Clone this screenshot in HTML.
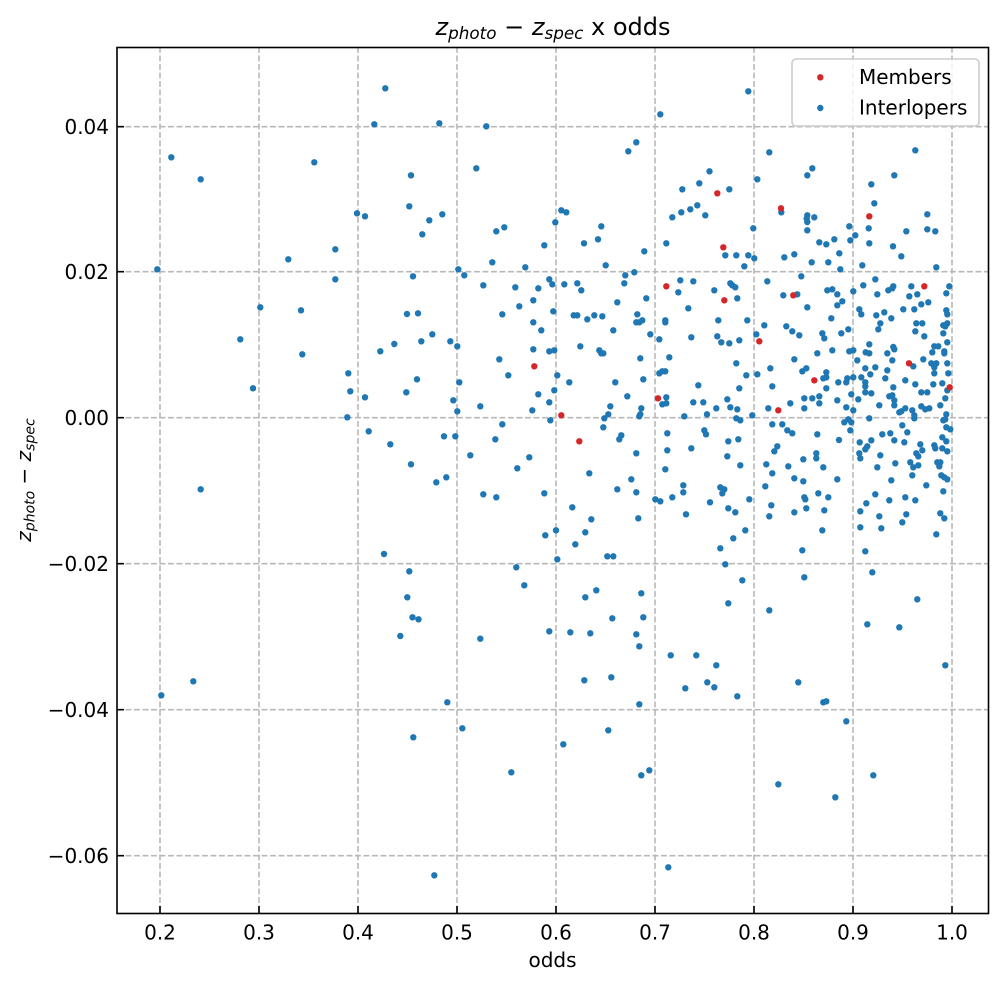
<!DOCTYPE html>
<html>
<head>
<meta charset="utf-8">
<style>
html,body{margin:0;padding:0;background:#fff;}
svg{display:block;}
text{font-family:"DejaVu Sans","Liberation Sans",sans-serif;fill:#000;}
</style>
</head>
<body>
<svg width="1004" height="985" viewBox="0 0 1004 985" xmlns="http://www.w3.org/2000/svg">
<rect x="0" y="0" width="1004" height="985" fill="#fff"/>
<!-- grid -->
<g stroke="#b8b8b8" stroke-width="1.6" stroke-dasharray="5.9 2.6" fill="none">
<line x1="160" y1="47" x2="160" y2="913"/>
<line x1="259" y1="47" x2="259" y2="913"/>
<line x1="358" y1="47" x2="358" y2="913"/>
<line x1="457" y1="47" x2="457" y2="913"/>
<line x1="556" y1="47" x2="556" y2="913"/>
<line x1="655" y1="47" x2="655" y2="913"/>
<line x1="754" y1="47" x2="754" y2="913"/>
<line x1="853" y1="47" x2="853" y2="913"/>
<line x1="952" y1="47" x2="952" y2="913"/>
<line x1="117" y1="126.7" x2="988" y2="126.7"/>
<line x1="117" y1="271.7" x2="988" y2="271.7"/>
<line x1="117" y1="417.7" x2="988" y2="417.7"/>
<line x1="117" y1="563.7" x2="988" y2="563.7"/>
<line x1="117" y1="709.7" x2="988" y2="709.7"/>
<line x1="117" y1="855.7" x2="988" y2="855.7"/>
</g>
<!-- interlopers -->
<g fill="#1f77b4">
<circle cx="385.3" cy="88.3" r="3.2"/><circle cx="374.3" cy="124.3" r="3.2"/><circle cx="171.3" cy="157.3" r="3.2"/><circle cx="200.7" cy="179.3" r="3.2"/><circle cx="314.3" cy="162.3" r="3.2"/><circle cx="411" cy="175.3" r="3.2"/><circle cx="357" cy="213.3" r="3.2"/><circle cx="365" cy="216.3" r="3.2"/><circle cx="409.3" cy="206.3" r="3.2"/><circle cx="335.3" cy="249.3" r="3.2"/><circle cx="288.3" cy="259.3" r="3.2"/><circle cx="157.3" cy="269.3" r="3.2"/><circle cx="413" cy="276.3" r="3.2"/><circle cx="335.3" cy="279.3" r="3.2"/><circle cx="260.3" cy="307.3" r="3.2"/><circle cx="301" cy="310.3" r="3.2"/><circle cx="407" cy="314" r="3.2"/><circle cx="418" cy="313.3" r="3.2"/><circle cx="240.3" cy="339.3" r="3.2"/><circle cx="394.3" cy="344" r="3.2"/>
<circle cx="302.3" cy="354.3" r="3.2"/><circle cx="380.3" cy="351.3" r="3.2"/><circle cx="348.3" cy="373.3" r="3.2"/><circle cx="417" cy="379.3" r="3.2"/><circle cx="253" cy="388.3" r="3.2"/><circle cx="350.3" cy="391.3" r="3.2"/><circle cx="365" cy="397.3" r="3.2"/><circle cx="406.3" cy="392.3" r="3.2"/><circle cx="347.3" cy="417.3" r="3.2"/><circle cx="368.7" cy="431.3" r="3.2"/><circle cx="390.3" cy="444.3" r="3.2"/><circle cx="411" cy="464.3" r="3.2"/><circle cx="200.7" cy="489.3" r="3.2"/><circle cx="384" cy="554" r="3.2"/><circle cx="409.3" cy="571.3" r="3.2"/><circle cx="407.3" cy="597.3" r="3.2"/><circle cx="412.5" cy="617.3" r="3.2"/><circle cx="418.5" cy="619.3" r="3.2"/><circle cx="400.3" cy="636" r="3.2"/>
<circle cx="193.3" cy="681.3" r="3.2"/><circle cx="161.3" cy="695.3" r="3.2"/><circle cx="413.3" cy="737.3" r="3.2"/>
<circle cx="439.3" cy="123.3" r="3.2"/><circle cx="486.3" cy="126.3" r="3.2"/><circle cx="660.3" cy="114.3" r="3.2"/><circle cx="628.3" cy="151.3" r="3.2"/><circle cx="636.3" cy="142.3" r="3.2"/><circle cx="476.3" cy="168.3" r="3.2"/><circle cx="709.5" cy="171.3" r="3.2"/><circle cx="699.3" cy="183.3" r="3.2"/><circle cx="682.3" cy="189.3" r="3.2"/><circle cx="429.3" cy="220.3" r="3.2"/><circle cx="442.3" cy="214.3" r="3.2"/><circle cx="422.3" cy="234.3" r="3.2"/><circle cx="561.3" cy="210.3" r="3.2"/><circle cx="566.3" cy="212.3" r="3.2"/><circle cx="555.3" cy="222.3" r="3.2"/><circle cx="496.3" cy="231.3" r="3.2"/><circle cx="504.3" cy="227.3" r="3.2"/><circle cx="601.3" cy="226.3" r="3.2"/><circle cx="598" cy="239.3" r="3.2"/><circle cx="584" cy="243.3" r="3.2"/><circle cx="544.3" cy="245.3" r="3.2"/><circle cx="672.3" cy="217.3" r="3.2"/><circle cx="681.3" cy="212.3" r="3.2"/><circle cx="690.3" cy="209.3" r="3.2"/><circle cx="697.3" cy="205.3" r="3.2"/><circle cx="705.3" cy="215.3" r="3.2"/><circle cx="666.3" cy="243.3" r="3.2"/><circle cx="644.3" cy="251.3" r="3.2"/><circle cx="492.3" cy="262.3" r="3.2"/><circle cx="458.3" cy="269.3" r="3.2"/><circle cx="464.3" cy="275.3" r="3.2"/><circle cx="525.3" cy="267.3" r="3.2"/><circle cx="605.7" cy="265.3" r="3.2"/><circle cx="625.3" cy="275.3" r="3.2"/><circle cx="634.3" cy="272.3" r="3.2"/><circle cx="624.3" cy="283.3" r="3.2"/><circle cx="483.3" cy="285.3" r="3.2"/><circle cx="515.3" cy="287.3" r="3.2"/><circle cx="538.3" cy="288.3" r="3.2"/><circle cx="549.3" cy="279.3" r="3.2"/><circle cx="552.3" cy="284.3" r="3.2"/><circle cx="564.3" cy="284.3" r="3.2"/><circle cx="577.3" cy="283.3" r="3.2"/><circle cx="581.3" cy="290.3" r="3.2"/><circle cx="680.3" cy="280.3" r="3.2"/><circle cx="693.3" cy="281.3" r="3.2"/><circle cx="678.3" cy="292.3" r="3.2"/><circle cx="646.3" cy="298.3" r="3.2"/><circle cx="617.3" cy="302.3" r="3.2"/><circle cx="533.3" cy="300.3" r="3.2"/><circle cx="519.3" cy="306.3" r="3.2"/><circle cx="502.3" cy="314.3" r="3.2"/><circle cx="553.3" cy="311.3" r="3.2"/><circle cx="573.7" cy="315.3" r="3.2"/><circle cx="577.3" cy="315.3" r="3.2"/><circle cx="587.3" cy="319.3" r="3.2"/><circle cx="594.3" cy="315.3" r="3.2"/><circle cx="602.3" cy="316.3" r="3.2"/><circle cx="637.3" cy="314.3" r="3.2"/><circle cx="636.3" cy="322.3" r="3.2"/><circle cx="639.3" cy="322.3" r="3.2"/><circle cx="642.3" cy="320.3" r="3.2"/><circle cx="665.3" cy="320.3" r="3.2"/><circle cx="665.3" cy="322.3" r="3.2"/><circle cx="688.3" cy="308.3" r="3.2"/><circle cx="533.3" cy="322.3" r="3.2"/><circle cx="541.3" cy="330.3" r="3.2"/><circle cx="613.3" cy="330.3" r="3.2"/><circle cx="650.3" cy="334.3" r="3.2"/><circle cx="659.3" cy="339.3" r="3.2"/><circle cx="691.3" cy="337.3" r="3.2"/><circle cx="432.3" cy="334.3" r="3.2"/><circle cx="421.3" cy="341.3" r="3.2"/><circle cx="450.3" cy="341.3" r="3.2"/><circle cx="457.3" cy="346.3" r="3.2"/><circle cx="580.3" cy="346.3" r="3.2"/>
<circle cx="533.3" cy="349.3" r="3.2"/><circle cx="549.3" cy="351.3" r="3.2"/><circle cx="554.3" cy="350.3" r="3.2"/><circle cx="599.3" cy="350.3" r="3.2"/><circle cx="601.3" cy="353.3" r="3.2"/><circle cx="603.3" cy="353.3" r="3.2"/><circle cx="499.3" cy="359.3" r="3.2"/><circle cx="508.3" cy="375.3" r="3.2"/><circle cx="557.3" cy="375.3" r="3.2"/><circle cx="569.3" cy="382.3" r="3.2"/><circle cx="459.3" cy="382.3" r="3.2"/><circle cx="554.3" cy="390.3" r="3.2"/><circle cx="538.3" cy="394.3" r="3.2"/><circle cx="549.3" cy="402.3" r="3.2"/><circle cx="453.3" cy="400.3" r="3.2"/><circle cx="457.3" cy="411.3" r="3.2"/><circle cx="480.3" cy="406.3" r="3.2"/><circle cx="532.3" cy="410.3" r="3.2"/><circle cx="550.3" cy="420.3" r="3.2"/><circle cx="502.3" cy="424.3" r="3.2"/><circle cx="444" cy="436.3" r="3.2"/><circle cx="455.3" cy="436.3" r="3.2"/><circle cx="495.3" cy="439.3" r="3.2"/><circle cx="470.3" cy="455.3" r="3.2"/><circle cx="529.3" cy="457.3" r="3.2"/><circle cx="517.3" cy="468.3" r="3.2"/><circle cx="436.3" cy="482.3" r="3.2"/><circle cx="446.3" cy="477.3" r="3.2"/><circle cx="483.3" cy="494.3" r="3.2"/><circle cx="496.3" cy="497.3" r="3.2"/><circle cx="544.3" cy="493.3" r="3.2"/><circle cx="589.3" cy="473.3" r="3.2"/><circle cx="640.3" cy="358.3" r="3.2"/><circle cx="669.3" cy="357.3" r="3.2"/><circle cx="659.3" cy="373.3" r="3.2"/><circle cx="662.3" cy="371.3" r="3.2"/><circle cx="665.3" cy="371.3" r="3.2"/><circle cx="643.3" cy="379.3" r="3.2"/><circle cx="615.3" cy="382.3" r="3.2"/><circle cx="627.3" cy="396.3" r="3.2"/><circle cx="610.3" cy="406.3" r="3.2"/><circle cx="608.3" cy="414.3" r="3.2"/><circle cx="604.3" cy="418.3" r="3.2"/><circle cx="603.3" cy="427.3" r="3.2"/><circle cx="641.3" cy="408.3" r="3.2"/><circle cx="640.3" cy="414.3" r="3.2"/><circle cx="639.3" cy="416.3" r="3.2"/><circle cx="662.3" cy="404.3" r="3.2"/><circle cx="666.3" cy="403.3" r="3.2"/><circle cx="666.3" cy="397.3" r="3.2"/><circle cx="684.3" cy="416.3" r="3.2"/><circle cx="693.3" cy="402.3" r="3.2"/><circle cx="703.3" cy="402.3" r="3.2"/><circle cx="698.3" cy="385.3" r="3.2"/><circle cx="707" cy="414.3" r="3.2"/><circle cx="667.3" cy="433.3" r="3.2"/><circle cx="704.3" cy="430.3" r="3.2"/><circle cx="706" cy="434.3" r="3.2"/><circle cx="691.3" cy="448.3" r="3.2"/><circle cx="667.3" cy="450.3" r="3.2"/><circle cx="621.3" cy="435.3" r="3.2"/><circle cx="619.3" cy="439.3" r="3.2"/><circle cx="636.3" cy="453.3" r="3.2"/><circle cx="665.3" cy="469.3" r="3.2"/><circle cx="631.3" cy="479.3" r="3.2"/><circle cx="617.3" cy="489.3" r="3.2"/><circle cx="636.3" cy="492.3" r="3.2"/><circle cx="655.3" cy="499.3" r="3.2"/><circle cx="660.3" cy="501.3" r="3.2"/><circle cx="672.3" cy="497.3" r="3.2"/><circle cx="683.3" cy="485.3" r="3.2"/><circle cx="683.3" cy="492.3" r="3.2"/><circle cx="710" cy="502.3" r="3.2"/><circle cx="686" cy="514.3" r="3.2"/><circle cx="638.3" cy="518.3" r="3.2"/><circle cx="572.3" cy="507.3" r="3.2"/><circle cx="591.3" cy="519.3" r="3.2"/><circle cx="585.3" cy="532.3" r="3.2"/><circle cx="556" cy="530.3" r="3.2"/><circle cx="545.3" cy="535.3" r="3.2"/><circle cx="575.3" cy="544.3" r="3.2"/><circle cx="607.3" cy="556.3" r="3.2"/><circle cx="613.3" cy="556.3" r="3.2"/><circle cx="557.3" cy="559.3" r="3.2"/><circle cx="516.3" cy="567.3" r="3.2"/><circle cx="524.3" cy="585.3" r="3.2"/><circle cx="585.3" cy="597.3" r="3.2"/><circle cx="596.3" cy="590.3" r="3.2"/><circle cx="641.3" cy="593.3" r="3.2"/><circle cx="612.3" cy="618.3" r="3.2"/><circle cx="643.3" cy="617.3" r="3.2"/><circle cx="549.3" cy="631.3" r="3.2"/><circle cx="570.3" cy="632.3" r="3.2"/><circle cx="590.3" cy="633.3" r="3.2"/><circle cx="636.3" cy="634.3" r="3.2"/><circle cx="480.3" cy="638.7" r="3.2"/>
<circle cx="639.3" cy="646.3" r="3.2"/><circle cx="670.7" cy="655.3" r="3.2"/><circle cx="696.3" cy="655.3" r="3.2"/><circle cx="584.3" cy="680.3" r="3.2"/><circle cx="611.3" cy="677.3" r="3.2"/><circle cx="685.3" cy="688.3" r="3.2"/><circle cx="707.3" cy="682.3" r="3.2"/><circle cx="639.3" cy="704.3" r="3.2"/><circle cx="447.3" cy="702.3" r="3.2"/><circle cx="462.3" cy="728.3" r="3.2"/><circle cx="608.3" cy="730.3" r="3.2"/><circle cx="563.3" cy="744.3" r="3.2"/><circle cx="511.3" cy="772.3" r="3.2"/><circle cx="641.3" cy="775.3" r="3.2"/><circle cx="649.3" cy="770.3" r="3.2"/><circle cx="434.3" cy="875.3" r="3.2"/><circle cx="668.3" cy="867.3" r="3.2"/>
<circle cx="748.3" cy="91.3" r="3.2"/><circle cx="915.3" cy="150.3" r="3.2"/><circle cx="769.3" cy="152.3" r="3.2"/><circle cx="757.3" cy="179.3" r="3.2"/><circle cx="807.3" cy="175.3" r="3.2"/><circle cx="812.3" cy="168.3" r="3.2"/><circle cx="894.3" cy="175.3" r="3.2"/><circle cx="871.3" cy="184.3" r="3.2"/><circle cx="729.3" cy="189.3" r="3.2"/><circle cx="874.3" cy="203.3" r="3.2"/><circle cx="781.3" cy="212.3" r="3.2"/><circle cx="807.3" cy="215.3" r="3.2"/><circle cx="806.7" cy="218.7" r="3.2"/><circle cx="807.3" cy="222" r="3.2"/><circle cx="814.3" cy="217.3" r="3.2"/><circle cx="927.3" cy="214.3" r="3.2"/><circle cx="753.3" cy="228.3" r="3.2"/><circle cx="807.3" cy="230.3" r="3.2"/><circle cx="849.3" cy="226.3" r="3.2"/><circle cx="868.7" cy="228.3" r="3.2"/><circle cx="906.3" cy="231.3" r="3.2"/><circle cx="927.3" cy="229.3" r="3.2"/><circle cx="935.3" cy="231.3" r="3.2"/><circle cx="819.3" cy="242.3" r="3.2"/><circle cx="826.3" cy="244.3" r="3.2"/><circle cx="834.3" cy="239.3" r="3.2"/><circle cx="850.3" cy="240.3" r="3.2"/><circle cx="855.3" cy="235.3" r="3.2"/><circle cx="869.3" cy="243.3" r="3.2"/><circle cx="893" cy="246.3" r="3.2"/><circle cx="725.3" cy="255.3" r="3.2"/><circle cx="736.3" cy="255.3" r="3.2"/><circle cx="748.3" cy="255.3" r="3.2"/><circle cx="754.3" cy="258.3" r="3.2"/><circle cx="744.3" cy="266.3" r="3.2"/><circle cx="784.3" cy="257.3" r="3.2"/><circle cx="794.3" cy="254.3" r="3.2"/><circle cx="839.3" cy="253.3" r="3.2"/><circle cx="811.7" cy="262.3" r="3.2"/><circle cx="828.3" cy="262.3" r="3.2"/><circle cx="840.3" cy="269.3" r="3.2"/><circle cx="862.3" cy="265.3" r="3.2"/><circle cx="901.3" cy="256.3" r="3.2"/><circle cx="936.3" cy="267.3" r="3.2"/><circle cx="801.3" cy="276.3" r="3.2"/><circle cx="767.3" cy="281.3" r="3.2"/><circle cx="714.3" cy="290.3" r="3.2"/><circle cx="730.3" cy="283.3" r="3.2"/><circle cx="732.3" cy="285.3" r="3.2"/><circle cx="735.3" cy="287.3" r="3.2"/><circle cx="737.3" cy="298.3" r="3.2"/><circle cx="783.3" cy="295.3" r="3.2"/><circle cx="797.3" cy="294.3" r="3.2"/><circle cx="807.3" cy="307.3" r="3.2"/><circle cx="827.3" cy="290.3" r="3.2"/><circle cx="832.3" cy="289.3" r="3.2"/><circle cx="837.3" cy="294.3" r="3.2"/><circle cx="837.3" cy="305.3" r="3.2"/><circle cx="842.3" cy="301.3" r="3.2"/><circle cx="853.3" cy="291.3" r="3.2"/><circle cx="863.3" cy="285.3" r="3.2"/><circle cx="875.3" cy="279.3" r="3.2"/><circle cx="877.3" cy="294.3" r="3.2"/><circle cx="888.3" cy="290.3" r="3.2"/><circle cx="892.3" cy="288.3" r="3.2"/><circle cx="893.3" cy="286.3" r="3.2"/><circle cx="911.3" cy="286.3" r="3.2"/><circle cx="909.3" cy="296.3" r="3.2"/><circle cx="917.3" cy="294.3" r="3.2"/><circle cx="949.3" cy="286.3" r="3.2"/><circle cx="946.3" cy="293.3" r="3.2"/><circle cx="859.3" cy="309.3" r="3.2"/><circle cx="861.3" cy="314.3" r="3.2"/><circle cx="876.3" cy="315.3" r="3.2"/><circle cx="884.3" cy="312.3" r="3.2"/><circle cx="891.3" cy="318.3" r="3.2"/><circle cx="903.3" cy="309.3" r="3.2"/><circle cx="914.3" cy="309.3" r="3.2"/><circle cx="921.3" cy="304.3" r="3.2"/><circle cx="928.3" cy="302.3" r="3.2"/><circle cx="946.3" cy="310.3" r="3.2"/><circle cx="947.3" cy="314.3" r="3.2"/><circle cx="947.3" cy="323.3" r="3.2"/><circle cx="943.3" cy="325.3" r="3.2"/><circle cx="945.3" cy="326.3" r="3.2"/><circle cx="916.3" cy="323.3" r="3.2"/><circle cx="922.3" cy="323.3" r="3.2"/><circle cx="915.3" cy="331.3" r="3.2"/><circle cx="924.3" cy="336.3" r="3.2"/><circle cx="943.3" cy="333.3" r="3.2"/><circle cx="947.3" cy="342.3" r="3.2"/><circle cx="934.3" cy="346.3" r="3.2"/><circle cx="938.3" cy="346.3" r="3.2"/><circle cx="718.3" cy="320.3" r="3.2"/><circle cx="747.3" cy="320.3" r="3.2"/><circle cx="831.3" cy="318.3" r="3.2"/><circle cx="880.3" cy="323.3" r="3.2"/><circle cx="878.3" cy="329.3" r="3.2"/><circle cx="764.3" cy="325.3" r="3.2"/><circle cx="786.3" cy="326.3" r="3.2"/><circle cx="792.3" cy="331.3" r="3.2"/><circle cx="799.3" cy="335.3" r="3.2"/><circle cx="822.3" cy="333.3" r="3.2"/><circle cx="824.3" cy="338.3" r="3.2"/><circle cx="841.3" cy="333.3" r="3.2"/><circle cx="848.3" cy="329.3" r="3.2"/><circle cx="717.3" cy="336.3" r="3.2"/><circle cx="721.3" cy="342.3" r="3.2"/><circle cx="729.3" cy="343.3" r="3.2"/><circle cx="739.3" cy="340.3" r="3.2"/><circle cx="756.3" cy="334.3" r="3.2"/><circle cx="869.3" cy="344.3" r="3.2"/><circle cx="893.3" cy="347" r="3.2"/>
<circle cx="817.3" cy="353.3" r="3.2"/><circle cx="832.3" cy="350.3" r="3.2"/><circle cx="849.3" cy="351.3" r="3.2"/><circle cx="853.3" cy="350.3" r="3.2"/><circle cx="865.7" cy="352.3" r="3.2"/><circle cx="869.3" cy="353.3" r="3.2"/><circle cx="887.3" cy="353.3" r="3.2"/><circle cx="894.3" cy="349.3" r="3.2"/><circle cx="892.3" cy="360.3" r="3.2"/><circle cx="857.3" cy="360.3" r="3.2"/><circle cx="794.3" cy="359.3" r="3.2"/><circle cx="736.3" cy="363.3" r="3.2"/><circle cx="770.3" cy="368.3" r="3.2"/><circle cx="802.3" cy="371.3" r="3.2"/><circle cx="806.3" cy="368.3" r="3.2"/><circle cx="865.3" cy="368.3" r="3.2"/><circle cx="875.3" cy="367.3" r="3.2"/><circle cx="887.3" cy="370.3" r="3.2"/><circle cx="913.3" cy="366.3" r="3.2"/><circle cx="923.3" cy="359.3" r="3.2"/><circle cx="932.3" cy="352.3" r="3.2"/><circle cx="944.3" cy="351.3" r="3.2"/><circle cx="944.3" cy="353.3" r="3.2"/><circle cx="931.3" cy="363.3" r="3.2"/><circle cx="936.3" cy="363.3" r="3.2"/><circle cx="934.3" cy="367.3" r="3.2"/><circle cx="934.3" cy="373.3" r="3.2"/><circle cx="947.3" cy="363.3" r="3.2"/><circle cx="948.3" cy="373.3" r="3.2"/><circle cx="746.3" cy="375.3" r="3.2"/><circle cx="757.3" cy="374.3" r="3.2"/><circle cx="739.3" cy="388.3" r="3.2"/><circle cx="772.3" cy="386.3" r="3.2"/><circle cx="823.3" cy="378.3" r="3.2"/><circle cx="826.3" cy="372.3" r="3.2"/><circle cx="826.3" cy="377.3" r="3.2"/><circle cx="826.3" cy="388.3" r="3.2"/><circle cx="838.3" cy="382.3" r="3.2"/><circle cx="846.3" cy="382.3" r="3.2"/><circle cx="847.3" cy="378.3" r="3.2"/><circle cx="853.3" cy="377.3" r="3.2"/><circle cx="861.3" cy="377.3" r="3.2"/><circle cx="865.3" cy="382.3" r="3.2"/><circle cx="865.3" cy="386.3" r="3.2"/><circle cx="865.3" cy="392.3" r="3.2"/><circle cx="870.3" cy="374.3" r="3.2"/><circle cx="871.3" cy="393.3" r="3.2"/><circle cx="885.3" cy="378.3" r="3.2"/><circle cx="893.3" cy="387.3" r="3.2"/><circle cx="905.3" cy="380.3" r="3.2"/><circle cx="915.3" cy="384.3" r="3.2"/><circle cx="921.3" cy="392.3" r="3.2"/><circle cx="927.3" cy="392.3" r="3.2"/><circle cx="933.3" cy="384.3" r="3.2"/><circle cx="942.3" cy="383.3" r="3.2"/><circle cx="947.3" cy="390.3" r="3.2"/><circle cx="851.3" cy="394.3" r="3.2"/><circle cx="858.3" cy="399.3" r="3.2"/><circle cx="879.3" cy="405.3" r="3.2"/><circle cx="889.3" cy="396.3" r="3.2"/><circle cx="892.3" cy="395.3" r="3.2"/><circle cx="894.3" cy="400.3" r="3.2"/><circle cx="894.3" cy="405.3" r="3.2"/><circle cx="899.3" cy="412.3" r="3.2"/><circle cx="901.3" cy="411.3" r="3.2"/><circle cx="905.3" cy="408.3" r="3.2"/><circle cx="912.3" cy="410.3" r="3.2"/><circle cx="914.3" cy="415.3" r="3.2"/><circle cx="914.3" cy="418.3" r="3.2"/><circle cx="921.3" cy="406.3" r="3.2"/><circle cx="925.3" cy="409.3" r="3.2"/><circle cx="929.3" cy="408.3" r="3.2"/><circle cx="940.3" cy="405.3" r="3.2"/><circle cx="945.3" cy="398.3" r="3.2"/><circle cx="946.3" cy="414.3" r="3.2"/><circle cx="945.3" cy="419.3" r="3.2"/><circle cx="943.3" cy="420.3" r="3.2"/><circle cx="716.3" cy="408.3" r="3.2"/><circle cx="727.3" cy="399.3" r="3.2"/><circle cx="730.3" cy="407.3" r="3.2"/><circle cx="737.3" cy="409.3" r="3.2"/><circle cx="736.3" cy="418.3" r="3.2"/><circle cx="740.3" cy="420.3" r="3.2"/><circle cx="752.3" cy="415.3" r="3.2"/><circle cx="768.3" cy="408.3" r="3.2"/><circle cx="790.3" cy="403.3" r="3.2"/><circle cx="804.3" cy="398.3" r="3.2"/><circle cx="804.3" cy="408.3" r="3.2"/><circle cx="812.3" cy="398.3" r="3.2"/><circle cx="819.3" cy="396.3" r="3.2"/><circle cx="819.3" cy="403.3" r="3.2"/><circle cx="837.3" cy="400.3" r="3.2"/><circle cx="846.3" cy="407.3" r="3.2"/><circle cx="853.3" cy="410.3" r="3.2"/><circle cx="848.3" cy="419.3" r="3.2"/><circle cx="844.3" cy="422.3" r="3.2"/><circle cx="851.3" cy="422.3" r="3.2"/><circle cx="850.3" cy="430.3" r="3.2"/><circle cx="869.3" cy="418.3" r="3.2"/><circle cx="772.3" cy="424.3" r="3.2"/><circle cx="782.3" cy="424.3" r="3.2"/><circle cx="787.3" cy="430.3" r="3.2"/><circle cx="792.3" cy="433.3" r="3.2"/><circle cx="817.3" cy="434.3" r="3.2"/><circle cx="839" cy="440" r="3.2"/><circle cx="728.3" cy="441.3" r="3.2"/><circle cx="738.3" cy="439.3" r="3.2"/><circle cx="727.3" cy="456.3" r="3.2"/><circle cx="740.3" cy="465.3" r="3.2"/><circle cx="777.3" cy="446.3" r="3.2"/><circle cx="774.3" cy="451.3" r="3.2"/><circle cx="766.3" cy="464.3" r="3.2"/><circle cx="772.3" cy="473.3" r="3.2"/><circle cx="788.3" cy="466.3" r="3.2"/><circle cx="803.3" cy="459.3" r="3.2"/><circle cx="816.3" cy="453.3" r="3.2"/><circle cx="816.3" cy="458.3" r="3.2"/><circle cx="823.3" cy="467.3" r="3.2"/><circle cx="794.3" cy="478.3" r="3.2"/><circle cx="803.3" cy="481.3" r="3.2"/><circle cx="837.3" cy="479.3" r="3.2"/><circle cx="765.3" cy="486.3" r="3.2"/><circle cx="859.7" cy="442.3" r="3.2"/><circle cx="859.3" cy="453.3" r="3.2"/><circle cx="860.3" cy="458.3" r="3.2"/><circle cx="865.3" cy="449.3" r="3.2"/><circle cx="867.3" cy="446.3" r="3.2"/><circle cx="871.3" cy="440.3" r="3.2"/><circle cx="882.3" cy="434.3" r="3.2"/><circle cx="890.3" cy="433.3" r="3.2"/><circle cx="894.3" cy="440.3" r="3.2"/><circle cx="904.3" cy="442.3" r="3.2"/><circle cx="902.3" cy="425.3" r="3.2"/><circle cx="907.3" cy="432.3" r="3.2"/><circle cx="880.3" cy="455.3" r="3.2"/><circle cx="877.3" cy="467.3" r="3.2"/><circle cx="895.3" cy="463.3" r="3.2"/><circle cx="891.3" cy="480.3" r="3.2"/><circle cx="920.3" cy="444.3" r="3.2"/><circle cx="922.3" cy="450.3" r="3.2"/><circle cx="916.3" cy="453.3" r="3.2"/><circle cx="918.3" cy="456.3" r="3.2"/><circle cx="910.3" cy="462.3" r="3.2"/><circle cx="913.3" cy="467.3" r="3.2"/><circle cx="918.3" cy="465.3" r="3.2"/><circle cx="912.3" cy="475.3" r="3.2"/><circle cx="926.3" cy="485.3" r="3.2"/><circle cx="934.3" cy="445.3" r="3.2"/><circle cx="935.3" cy="448.3" r="3.2"/><circle cx="942.3" cy="437.3" r="3.2"/><circle cx="942.3" cy="448.3" r="3.2"/><circle cx="946.3" cy="441.3" r="3.2"/><circle cx="947.3" cy="451.3" r="3.2"/><circle cx="946.3" cy="427.3" r="3.2"/><circle cx="950.3" cy="429.3" r="3.2"/><circle cx="937.3" cy="462.3" r="3.2"/><circle cx="940.3" cy="462.3" r="3.2"/><circle cx="939.3" cy="466.3" r="3.2"/><circle cx="941.3" cy="475.3" r="3.2"/><circle cx="944.3" cy="477.3" r="3.2"/><circle cx="947.3" cy="479.3" r="3.2"/><circle cx="943.3" cy="491.3" r="3.2"/><circle cx="720.3" cy="487.3" r="3.2"/><circle cx="724.3" cy="489.3" r="3.2"/><circle cx="722.3" cy="493.3" r="3.2"/><circle cx="749.3" cy="499.3" r="3.2"/><circle cx="728.3" cy="508.3" r="3.2"/><circle cx="735.3" cy="512.3" r="3.2"/><circle cx="771.3" cy="505.3" r="3.2"/><circle cx="769.3" cy="516.3" r="3.2"/><circle cx="794.3" cy="512.3" r="3.2"/><circle cx="806.3" cy="508.3" r="3.2"/><circle cx="804.3" cy="497.3" r="3.2"/><circle cx="805.3" cy="499.3" r="3.2"/><circle cx="818.3" cy="493.3" r="3.2"/><circle cx="828.3" cy="497.3" r="3.2"/><circle cx="824.3" cy="510.3" r="3.2"/><circle cx="822.3" cy="530.3" r="3.2"/><circle cx="745.3" cy="530.3" r="3.2"/><circle cx="733.3" cy="538.3" r="3.2"/><circle cx="720.3" cy="548.3" r="3.2"/><circle cx="725.3" cy="564.3" r="3.2"/><circle cx="742.3" cy="580.3" r="3.2"/><circle cx="728.3" cy="603.3" r="3.2"/><circle cx="769.3" cy="610.3" r="3.2"/><circle cx="802.3" cy="550.3" r="3.2"/><circle cx="804.3" cy="577.3" r="3.2"/><circle cx="875.3" cy="494.3" r="3.2"/><circle cx="866.3" cy="503.3" r="3.2"/><circle cx="860.3" cy="511.3" r="3.2"/><circle cx="860.3" cy="527.3" r="3.2"/><circle cx="879.3" cy="516.3" r="3.2"/><circle cx="881.3" cy="528.3" r="3.2"/><circle cx="889.3" cy="500.3" r="3.2"/><circle cx="905.3" cy="497.3" r="3.2"/><circle cx="915.3" cy="500.3" r="3.2"/><circle cx="906.3" cy="514.3" r="3.2"/><circle cx="902.3" cy="522.3" r="3.2"/><circle cx="940.3" cy="513.3" r="3.2"/><circle cx="944.3" cy="518.3" r="3.2"/><circle cx="936.3" cy="534.3" r="3.2"/><circle cx="865.3" cy="551.3" r="3.2"/><circle cx="872.3" cy="572.3" r="3.2"/><circle cx="917.3" cy="599.3" r="3.2"/><circle cx="867.3" cy="624.3" r="3.2"/><circle cx="899.3" cy="627.3" r="3.2"/>
<circle cx="716.3" cy="665.3" r="3.2"/><circle cx="714.3" cy="687.3" r="3.2"/><circle cx="737.3" cy="696.3" r="3.2"/><circle cx="798.3" cy="682.3" r="3.2"/><circle cx="823.3" cy="702.3" r="3.2"/><circle cx="826.3" cy="701.3" r="3.2"/><circle cx="846.3" cy="721.3" r="3.2"/><circle cx="945.3" cy="665.3" r="3.2"/><circle cx="778.3" cy="784.3" r="3.2"/><circle cx="835.3" cy="797.3" r="3.2"/><circle cx="873.3" cy="775.3" r="3.2"/>
</g>
<!-- members -->
<g fill="#d62728">
<circle cx="666.3" cy="286.3" r="3.2"/><circle cx="534.3" cy="366.3" r="3.2"/><circle cx="561.3" cy="415.3" r="3.2"/><circle cx="579.3" cy="441.3" r="3.2"/><circle cx="658" cy="398.3" r="3.2"/><circle cx="717.3" cy="193.3" r="3.2"/><circle cx="781" cy="208.3" r="3.2"/><circle cx="869.3" cy="216.3" r="3.2"/><circle cx="723.3" cy="247.3" r="3.2"/><circle cx="724.3" cy="300.3" r="3.2"/><circle cx="793.3" cy="295.3" r="3.2"/><circle cx="924.3" cy="286.3" r="3.2"/><circle cx="759.3" cy="341.3" r="3.2"/><circle cx="909" cy="363.3" r="3.2"/><circle cx="814.3" cy="380.3" r="3.2"/><circle cx="778.3" cy="410.3" r="3.2"/><circle cx="949.7" cy="387.3" r="3.2"/>
</g>
<!-- ticks (inward) -->
<g stroke="#000" stroke-width="1.6">
<line x1="117" y1="126.7" x2="124" y2="126.7"/>
<line x1="117" y1="271.7" x2="124" y2="271.7"/>
<line x1="117" y1="417.7" x2="124" y2="417.7"/>
<line x1="117" y1="563.7" x2="124" y2="563.7"/>
<line x1="117" y1="709.7" x2="124" y2="709.7"/>
<line x1="117" y1="855.7" x2="124" y2="855.7"/>
<line x1="160" y1="913" x2="160" y2="906"/>
<line x1="259" y1="913" x2="259" y2="906"/>
<line x1="358" y1="913" x2="358" y2="906"/>
<line x1="457" y1="913" x2="457" y2="906"/>
<line x1="556" y1="913" x2="556" y2="906"/>
<line x1="655" y1="913" x2="655" y2="906"/>
<line x1="754" y1="913" x2="754" y2="906"/>
<line x1="853" y1="913" x2="853" y2="906"/>
<line x1="952" y1="913" x2="952" y2="906"/>
</g>
<!-- frame -->
<rect x="117" y="47.5" width="871.5" height="866" fill="none" stroke="#000" stroke-width="1.6"/>
<!-- legend -->
<rect x="792" y="59" width="187" height="67" rx="4" ry="4" fill="#fff" fill-opacity="0.8" stroke="#cccccc" stroke-width="1.6"/>
<circle cx="820.3" cy="77.3" r="3.2" fill="#d62728"/>
<circle cx="820.3" cy="108" r="3.2" fill="#1f77b4"/>
<text x="859" y="84" font-size="20">Members</text>
<text x="859" y="114.5" font-size="20">Interlopers</text>
<!-- y tick labels -->
<g font-size="20" text-anchor="end">
<text x="109" y="134">0.04</text>
<text x="109" y="279">0.02</text>
<text x="109" y="425">0.00</text>
<text x="109" y="571">−0.02</text>
<text x="109" y="717">−0.04</text>
<text x="109" y="863">−0.06</text>
</g>
<!-- x tick labels -->
<g font-size="20" text-anchor="middle">
<text x="160" y="939.3">0.2</text>
<text x="259" y="939.3">0.3</text>
<text x="358" y="939.3">0.4</text>
<text x="457" y="939.3">0.5</text>
<text x="556" y="939.3">0.6</text>
<text x="655" y="939.3">0.7</text>
<text x="754" y="939.3">0.8</text>
<text x="853" y="939.3">0.9</text>
<text x="952" y="939.3">1.0</text>
</g>
<!-- x label -->
<text x="552.5" y="967" font-size="20" text-anchor="middle">odds</text>
<!-- y label -->
<text transform="translate(31,480) rotate(-90)" font-size="20" text-anchor="middle"><tspan font-style="italic">z</tspan><tspan font-style="italic" font-size="14" dy="3.5">photo</tspan><tspan dy="-3.5"> − </tspan><tspan font-style="italic">z</tspan><tspan font-style="italic" font-size="14" dy="3.5">spec</tspan></text>
<!-- title -->
<text x="553" y="35" font-size="24" text-anchor="middle"><tspan font-style="italic">z</tspan><tspan font-style="italic" font-size="16.8" dy="4">photo</tspan><tspan dy="-4"> − </tspan><tspan font-style="italic">z</tspan><tspan font-style="italic" font-size="16.8" dy="4">spec</tspan><tspan dy="-4"> x odds</tspan></text>
</svg>
</body>
</html>
